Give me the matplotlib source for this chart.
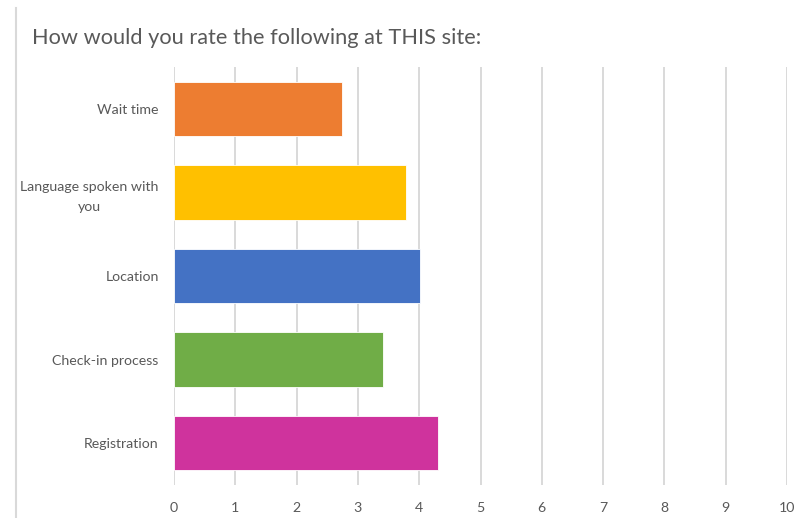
import matplotlib
matplotlib.use("Agg")
import matplotlib.pyplot as plt
from matplotlib.lines import Line2D

# Ratings shown top to bottom
categories = ["Wait time", "Language spoken with\nyou", "Location",
              "Check-in process", "Registration"]
ratings = [2.74, 3.79, 4.01, 3.41, 4.30]
bar_colors = ["#ED7D31", "#FFC000", "#4472C4", "#70AD47", "#CF339D"]
x_ticks = list(range(0, 11))
title = "How would you rate the following at THIS site:"

plt.rcParams["font.family"] = ["Lato", "DejaVu Sans"]
text_color = "#595959"

W, H = 802, 518
fig = plt.figure(figsize=(W / 100, H / 100), dpi=100)
ax = fig.add_axes([174 / W, (H - 485) / H, (787 - 174) / W, (485 - 67) / H])

ypos = list(range(len(categories)))
ax.barh(ypos, ratings, height=0.65, color=bar_colors,
        edgecolor="white", linewidth=0.6, zorder=3)

ax.set_xlim(0, 10)
ax.set_ylim(len(categories) - 0.5, -0.5)
ax.set_xticks(x_ticks)
ax.set_xticklabels([str(t) for t in x_ticks])
ax.set_yticks(ypos)
ax.set_yticklabels(categories, multialignment="center", linespacing=1.75)

ax.grid(axis="x", color="#D9D9D9", linewidth=1.4, zorder=0)
ax.grid(axis="y", visible=False)
for s in ax.spines.values():
    s.set_visible(False)
ax.tick_params(axis="both", length=0, colors=text_color, labelsize=10.2)
ax.tick_params(axis="x", pad=12)
ax.tick_params(axis="y", pad=11)

fig.text(32 / W, 1 - 38 / H, title, fontsize=15.7, color=text_color,
         ha="left", va="center")

# Light frame line along the left edge
fig.add_artist(Line2D([16 / W, 16 / W], [0, 1 - 8 / H],
                      transform=fig.transFigure, color="#D9D9D9", linewidth=1.5))

fig.savefig("out.png", dpi=100)
